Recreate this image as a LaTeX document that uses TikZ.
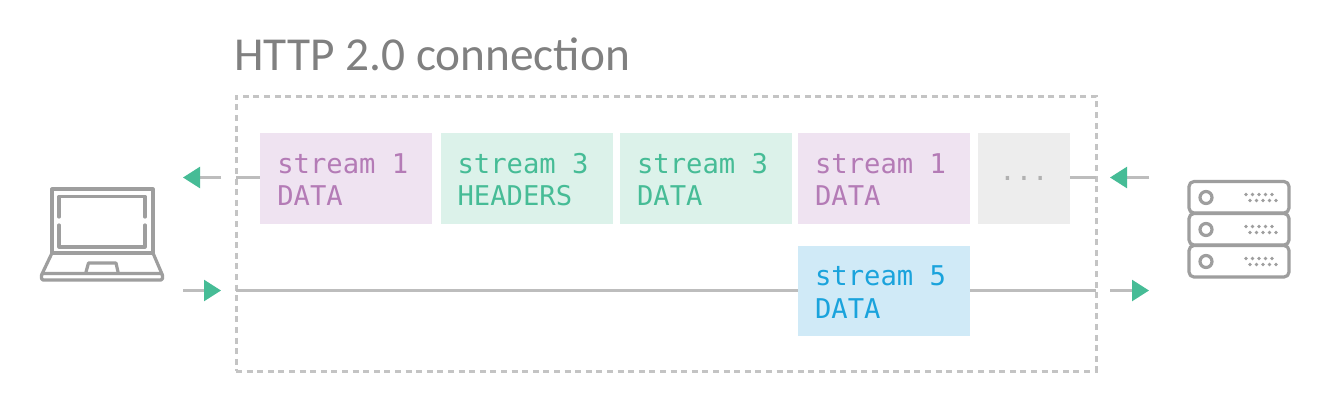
\documentclass[tikz,border=0pt]{standalone}
\usepackage{fontspec}
\setmainfont{Carlito}
\newfontfamily\titlefont[Ligatures=Common]{Carlito}
\newfontfamily\codefont{DejaVu Sans Mono}
\usetikzlibrary{arrows.meta}
\definecolor{purp}{HTML}{B47BB6}\definecolor{purpbg}{HTML}{EFE3F1}
\definecolor{grn}{HTML}{46BC96}\definecolor{grnbg}{HTML}{DCF2EA}
\definecolor{blu}{HTML}{1AA3DC}\definecolor{blubg}{HTML}{D0EAF7}
\definecolor{greybg}{HTML}{EDEDED}\definecolor{icon}{HTML}{9E9E9E}
\definecolor{wire}{HTML}{BDBDBD}\definecolor{frameC}{HTML}{C4C4C4}
\newcommand{\codeset}{\codefont\fontsize{27.2}{33}\selectfont}
\newcommand{\twolines}[2]{\spaceskip=16.4pt\relax\raisebox{-4pt}[20pt][6pt]{#1}\\\raisebox{-3.6pt}[20pt][6pt]{#2}}
\tikzset{
 x=1pt,y=-1pt,
 frame/.style={draw=frameC,line width=3pt,dash pattern=on 6pt off 4.6pt,minimum width=860pt,minimum height=275pt,inner sep=0,outer sep=0},
 box/.style={minimum height=90.5pt,inner sep=0,outer sep=0,font=\codeset},
 sbox/.style={box,minimum width=172pt,text width=138pt,align=left},
 wireline/.style={draw=wire,line width=2.4pt},
 arrowR/.style={draw=wire,line width=2.4pt,-{Triangle[length=17pt,width=21pt,color=grn]}},
 iconline/.style={draw=icon,line width=3.2pt,line join=round,line cap=round},
}
\newcommand{\dotrows}[1]{%
 \foreach \dx in {1246,1252.5,1259,1265.5,1272}{\fill[icon] (\dx,#1-3) circle (1.8pt);}%
 \foreach \dx in {1250,1256.5,1263,1269.5,1276}{\fill[icon] (\dx,#1+3) circle (1.8pt);}%
}
\begin{document}
\begin{tikzpicture}
\useasboundingbox[fill=white] (0,0) rectangle (1343,413);
\node[anchor=base west,text=gray,inner sep=0,font=\titlefont\fontsize{47.3}{47}\selectfont] (title) at (234,70) {HTTP 2.0 connection};
\node[frame] (conn) at (666,233.5) {};
\node[sbox,fill=purpbg,text=purp] (a) at (346.3,178.5) {\twolines{stream 1}{DATA}};
\node[sbox,fill=grnbg,text=grn] (b) at (526.5,178.5) {\twolines{stream 3}{HEADERS}};
\node[sbox,fill=grnbg,text=grn] (c) at (706,178.5) {\twolines{stream 3}{DATA}};
\node[sbox,fill=purpbg,text=purp] (d) at (884,178.5) {\twolines{stream 1}{DATA}};
\node[box,fill=greybg,text=icon!80,minimum width=92pt] (e) at (1024,178.5) {...};
\node[sbox,fill=blubg,text=blu] (f) at (884,291) {\twolines{stream 5}{DATA}};
\coordinate (lt) at (236,177.5);
\coordinate (rt) at (1096,177.5);
\coordinate (lb) at (236,290.5);
\coordinate (rb) at (1096,290.5);
\coordinate (a1) at (221,177.5);\coordinate (a2) at (183,177.5);
\coordinate (b1) at (183,290.5);\coordinate (b2) at (221,290.5);
\coordinate (c1) at (1149,177.5);\coordinate (c2) at (1110,177.5);
\coordinate (d1) at (1110,290.5);\coordinate (d2) at (1149,290.5);
\draw[wireline] (lt) -- (a.west |- lt);
\draw[wireline] (e.east |- rt) -- (rt);
\draw[wireline] (lb) -- (f.west |- lb);
\draw[wireline] (f.east |- rb) -- (rb);
\draw[arrowR] (a1) -- (a2);
\draw[arrowR] (b1) -- (b2);
\draw[arrowR] (c1) -- (c2);
\draw[arrowR] (d1) -- (d2);
% laptop
\draw[iconline] (52,253) -- (52,189) -- (153,189) -- (153,253) -- cycle;
\draw[iconline] (59,217) -- (59,196.5) -- (145,196.5) -- (145,217);
\draw[iconline] (59,225) -- (59,247) -- (145,247) -- (145,225);
\draw[iconline] (52,253) -- (42,274);
\draw[iconline] (153,253) -- (162,274);
\draw[iconline,rounded corners=1.5pt] (41.5,273.5) -- (162.5,273.5) -- (162.5,280) -- (41.5,280) -- cycle;
\draw[iconline] (86,272) -- (88.5,263) -- (116,263) -- (118,272);
% server
\foreach \yy in {181.5,213.5,245.5}{
 \draw[iconline,rounded corners=5pt] (1189,\yy) rectangle (1289,\yy+31.5);
 \draw[icon,line width=3.2pt] (1206,\yy+16) circle (6pt);
 \dotrows{\yy+16}
}
\end{tikzpicture}
\end{document}
